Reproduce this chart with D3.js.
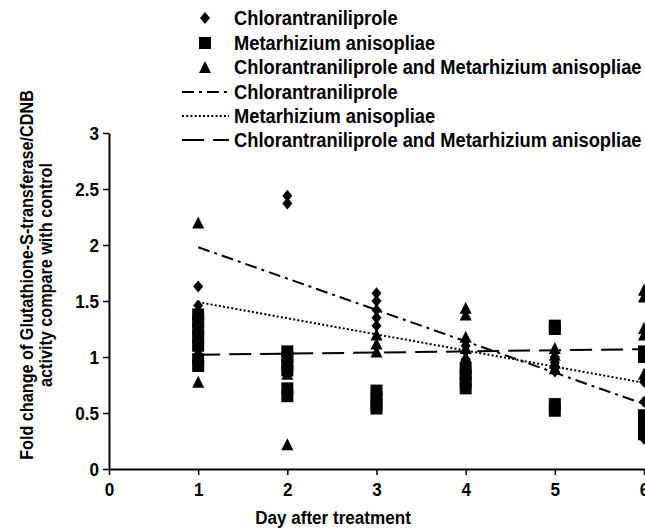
<!DOCTYPE html>
<html>
<head>
<meta charset="utf-8">
<script src="https://cdn.jsdelivr.net/npm/d3@7"></script>
<style>
  body { margin: 0; background: #fff; }
  svg text { font-family: "Liberation Sans", Arial, sans-serif; font-weight: bold; fill: #000; }
</style>
</head>
<body>
<script>
/* Data */
const chlorDays = [1, 1, 1, 1, 1, 2, 2, 2, 3, 3, 3, 3, 3, 4, 4, 4, 4, 4, 5, 5, 5, 5, 6, 6, 6];
const chlorVals = [1.63, 1.46, 1.40, 1.33, 1.25, 2.44, 2.37, 0.88, 1.57, 1.50, 1.42, 1.35, 1.28,
  1.15, 1.10, 1.05, 0.98, 0.92, 1.00, 0.95, 0.90, 0.87, 0.78, 0.60, 0.27];

const metaDays = [1, 1, 1, 1, 1, 1, 1, 2, 2, 2, 2, 2, 2, 3, 3, 3, 3, 4, 4, 4, 4, 5, 5, 5, 5, 6, 6, 6, 6, 6, 6];
const metaVals = [1.38, 1.32, 1.25, 1.18, 1.10, 0.98, 0.92, 1.05, 1.00, 0.93, 0.88, 0.72, 0.65,
  0.70, 0.64, 0.58, 0.54, 0.90, 0.84, 0.78, 0.72, 1.28, 1.25, 0.58, 0.52,
  1.05, 1.00, 0.48, 0.42, 0.36, 0.31];

const combDays = [1, 1, 1, 2, 2, 3, 3, 3, 4, 4, 4, 4, 4, 5, 5, 5, 5, 6, 6, 6, 6, 6];
const combVals = [2.20, 1.05, 0.78, 0.22, 0.85, 1.20, 1.12, 1.05, 1.44, 1.38, 1.18, 1.08, 1.00,
  1.08, 1.02, 0.95, 0.90, 1.60, 1.54, 1.26, 1.20, 0.85];

/* trend lines (start and end of each fit) */
const trendDays = [1, 6];
const chlorTrend = [1.98, 0.58];
const metaTrend = [1.49, 0.77];
const combTrend = [1.02, 1.07];

const xTicks = [0, 1, 2, 3, 4, 5, 6];
const yTicks = [0, 0.5, 1, 1.5, 2, 2.5, 3];
const legendNames = ["Chlorantraniliprole", "Metarhizium anisopliae", "Chlorantraniliprole and Metarhizium anisopliae"];

/* Constants */
const w = 645;
const h = 529;
const squeeze = 0.9; // text in the original is a bit narrow

const svg = d3.select("body").append("svg")
  .attr("width", w)
  .attr("height", h);

const xScale = d3.scaleLinear().domain([0, 6]).range([109, 644]);
const yScale = d3.scaleLinear().domain([0, 3]).range([469, 133]);

/* marker shapes */
let diamond = (x, y) => `M${x},${y - 6}L${x + 5},${y}L${x},${y + 6}L${x - 5},${y}Z`;
let square = (x, y) => `M${x - 6},${y - 6}h12v12h-12Z`;
let triangle = (x, y) => `M${x},${y - 6}L${x + 6},${y + 6}L${x - 6},${y + 6}Z`;

const dashDot = "12,5,3,5";
const dotted = "2,2.2";
const longDash = "22,9";

/* Axes */
svg.append("g")
  .attr("transform", "translate(0,469)")
  .call(d3.axisBottom(xScale).tickValues(xTicks).tickFormat(d3.format("")).tickSize(6).tickSizeOuter(0))
  .call(g => g.select(".domain").attr("stroke-width", 2))
  .call(g => g.selectAll(".tick line").attr("stroke-width", 1.5))
  .call(g => g.selectAll(".tick text").attr("font-size", 19).attr("dy", "0.95em")
    .attr("transform", `scale(${squeeze},1)`));

svg.append("g")
  .attr("transform", "translate(109,0)")
  .call(d3.axisLeft(yScale).tickValues(yTicks).tickFormat(d3.format("")).tickSize(6).tickSizeOuter(0))
  .call(g => g.select(".domain").attr("stroke-width", 2))
  .call(g => g.selectAll(".tick line").attr("stroke-width", 1.5))
  .call(g => g.selectAll(".tick text").attr("font-size", 19).attr("x", -10 / squeeze)
    .attr("transform", `scale(${squeeze},1)`));

/* Axis titles */
svg.append("text")
  .attr("transform", `translate(333,524) scale(${squeeze},1)`)
  .attr("text-anchor", "middle")
  .attr("font-size", 19)
  .text("Day after treatment");

let yTitle = svg.append("text")
  .attr("transform", `translate(0,275) rotate(-90) scale(${squeeze},1)`)
  .attr("text-anchor", "middle")
  .attr("font-size", 18);
yTitle.append("tspan").attr("x", 0).attr("y", 33).text("Fold change of Glutathione-S-transferase/CDNB");
yTitle.append("tspan").attr("x", 0).attr("y", 52).text("activity compare with control");

/* Trend lines */
let line = d3.line().x(d => xScale(d[0])).y(d => yScale(d[1]));
let trends = [
  { vals: chlorTrend, dash: dashDot },
  { vals: metaTrend, dash: dotted },
  { vals: combTrend, dash: longDash }
];
trends.forEach(t => {
  svg.append("path")
    .attr("d", line(trendDays.map((d, i) => [d, t.vals[i]])))
    .attr("fill", "none")
    .attr("stroke", "#000")
    .attr("stroke-width", 2)
    .attr("stroke-dasharray", t.dash);
});

/* Points */
let series = [
  { days: chlorDays, vals: chlorVals, shape: diamond },
  { days: metaDays, vals: metaVals, shape: square },
  { days: combDays, vals: combVals, shape: triangle }
];
series.forEach(s => {
  svg.append("g").selectAll("path")
    .data(s.vals)
    .enter()
    .append("path")
    .attr("d", (d, i) => s.shape(xScale(s.days[i]), yScale(d)))
    .attr("fill", "#000");
});

/* Legend */
const legendY = [18, 43, 67, 92, 116, 140];
let legend = svg.append("g");
[diamond, square, triangle].forEach((shape, i) => {
  legend.append("path").attr("d", shape(205, legendY[i])).attr("fill", "#000");
});
[dashDot, dotted, longDash].forEach((dash, i) => {
  legend.append("line")
    .attr("x1", 182).attr("x2", 229)
    .attr("y1", legendY[i + 3]).attr("y2", legendY[i + 3])
    .attr("stroke", "#000")
    .attr("stroke-width", 2)
    .attr("stroke-dasharray", dash);
});
legendY.forEach((y, i) => {
  legend.append("text")
    .attr("transform", `translate(234,${y}) scale(0.915,1)`)
    .attr("dy", "0.36em")
    .attr("font-size", 20)
    .text(legendNames[i % 3]);
});
</script>
</body>
</html>
